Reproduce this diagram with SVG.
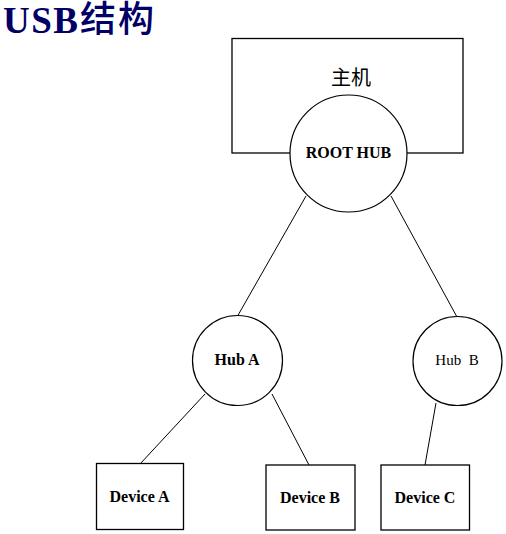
<svg xmlns="http://www.w3.org/2000/svg" width="506" height="534" viewBox="0 0 506 534">
<style>
.box{fill:#fff;stroke:#000;stroke-width:1.3}
.hub{fill:#fff;stroke:#000;stroke-width:1.2}
.ln{stroke:#000;stroke-width:1;fill:none}
.lb{font-family:"Liberation Serif","Times New Roman",serif;font-weight:bold;font-size:16px;fill:#000;text-anchor:middle}
.lr{font-family:"Liberation Serif","Times New Roman",serif;font-size:15px;fill:#000;text-anchor:middle}
</style>
<rect width="506" height="534" fill="#fff"/>
<g id="title" fill="#000066">
<text x="3" y="33" font-family="'Liberation Serif','Times New Roman',serif" font-weight="bold" font-size="37" textLength="75">USB</text>
<text x="80" y="32" font-family="'Noto Sans CJK SC',sans-serif" font-weight="500" font-size="36" letter-spacing="2">结构</text>
</g>
<g id="connectors">
<line class="ln" x1="306" y1="196" x2="237" y2="317"/>
<line class="ln" x1="391" y1="196" x2="457" y2="317"/>
<line class="ln" x1="205" y1="394" x2="140" y2="464"/>
<line class="ln" x1="272" y1="394" x2="309" y2="465"/>
<line class="ln" x1="436" y1="403" x2="425" y2="465"/>
</g>
<g id="host">
<rect class="box" x="232" y="38.5" width="231" height="114.5"/>
<text x="351" y="85" font-family="'Noto Sans CJK SC',sans-serif" font-size="20" text-anchor="middle" fill="#000">主机</text>
</g>
<g id="root-hub">
<circle class="hub" cx="348.5" cy="153.5" r="58.5" stroke-width="1.8"/>
<text class="lb" x="348.5" y="158">ROOT HUB</text>
</g>
<g id="hub-a">
<circle class="hub" cx="237.5" cy="360.5" r="45"/>
<text class="lb" x="237" y="365">Hub A</text>
</g>
<g id="hub-b">
<circle class="hub" cx="457.5" cy="361" r="44.5"/>
<text class="lr" x="457" y="365" xml:space="preserve">Hub  B</text>
</g>
<g id="device-a">
<rect class="box" x="96.5" y="463.5" width="87" height="66"/>
<text class="lb" x="139.5" y="502">Device A</text>
</g>
<g id="device-b">
<rect class="box" x="266" y="465" width="89" height="65"/>
<text class="lb" x="310" y="503">Device B</text>
</g>
<g id="device-c">
<rect class="box" x="381" y="465" width="88.5" height="65"/>
<text class="lb" x="425" y="503">Device C</text>
</g>
</svg>
